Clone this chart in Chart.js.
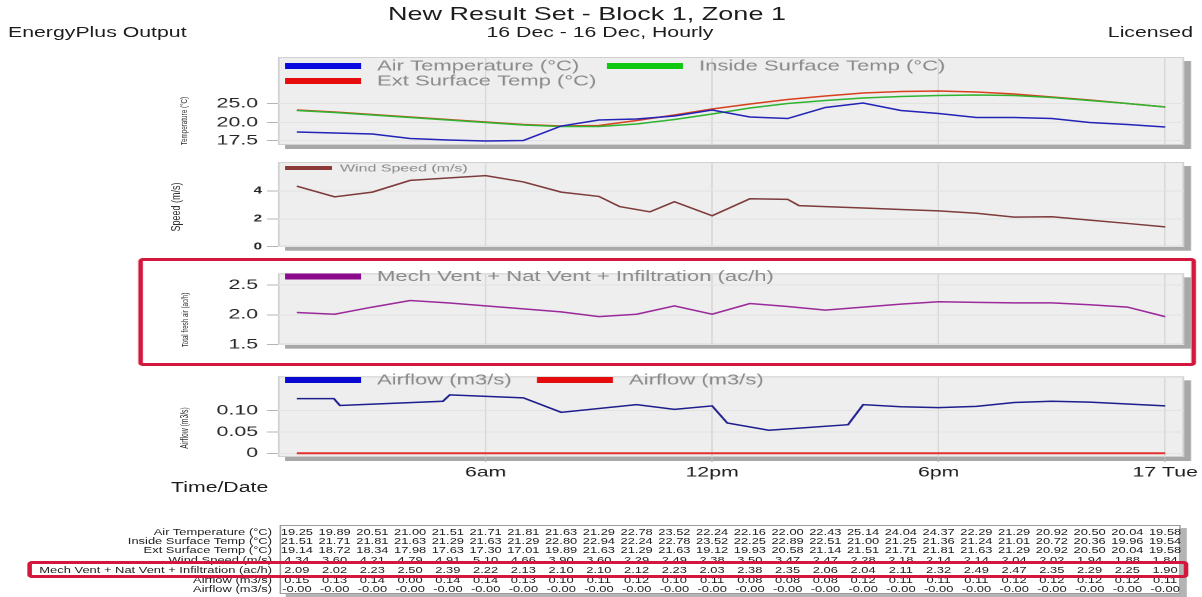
<!DOCTYPE html>
<html>
<head>
<meta charset="utf-8">
<title>New Result Set - Block 1, Zone 1</title>
<script src="https://cdn.jsdelivr.net/npm/chart.js@4.4.1/dist/chart.umd.min.js"></script>
<style>
  html, body { margin: 0; padding: 0; background: #fff; }
  body { width: 1202px; height: 597px; overflow: hidden; position: relative; }
  /* the sheet is laid out narrow and stretched horizontally as a whole */
  #sheet { position: absolute; left: 0; top: 0; width: 791px; height: 597px;
           transform: scaleX(1.519595); transform-origin: 0 0;
           font-family: "Liberation Sans", Arial, sans-serif; color: #1c1c1c; }
  #sheet canvas { position: absolute; left: 0; }
  .t { position: absolute; white-space: nowrap; line-height: 1; }
  .hl { position: absolute; border: 3px solid #d3173d; border-radius: 3px; box-sizing: border-box; z-index: 5; }
  .tbl { position: absolute; box-sizing: border-box; border: 1px solid #9c9c9c; background: #fff;
         box-shadow: 4px 3px 0 #b4b4b4; }
</style>
</head>
<body>
<div id="sheet"></div>
<script>
// ---------------------------------------------------------------- data
const hours = [1, 2, 3, 4, 5, 6, 7, 8, 9, 10, 11, 12, 13, 14, 15, 16, 17, 18, 19, 20, 21, 22, 23, 24];
const xTickHours = [6, 12, 18, 24];
const xTickLabels = ['6am', '12pm', '6pm', '17 Tue'];

// Temperatures (°C)
const airTemp        = [18.68, 18.54, 18.40, 17.78, 17.57, 17.43, 17.50, 19.51, 20.66, 20.92, 21.71, 23.29,
                        21.45, 21.05, 23.95, 25.13, 23.16, 22.37, 21.32, 21.32, 21.05, 20.00, 19.72, 19.38];
const insideSurfTemp = [23.16, 22.63, 21.97, 21.32, 20.66, 20.00, 19.65, 19.44, 19.44, 19.79, 20.79, 22.24,
                        23.82, 25.00, 25.79, 26.45, 26.84, 27.11, 27.24, 27.11, 26.58, 25.79, 25.00, 24.08];
const extSurfTemp    = [23.29, 22.76, 22.11, 21.45, 20.79, 20.13, 19.72, 19.51, 19.58, 20.53, 21.97, 23.55,
                        24.87, 26.05, 26.97, 27.76, 28.16, 28.29, 28.03, 27.50, 26.71, 25.92, 25.00, 24.08];
const tempTicks = [17.5, 20, 25];
const tempTickLabels = ['17.5', '20.0', '25.0'];

// Wind speed (m/s)
const windHours = [1, 2, 3, 4, 5, 6, 7, 8, 9, 9.55, 10.35, 11, 12, 13, 14, 14.3, 15, 16, 17, 18, 19, 20, 21, 22, 23, 24];
const windSpeed = [4.34, 3.58, 3.92, 4.76, 4.93, 5.10, 4.65, 3.92, 3.61, 2.88, 2.50, 3.23, 2.22, 3.44, 3.40, 2.95,
                   2.88, 2.78, 2.67, 2.57, 2.40, 2.12, 2.15, 1.91, 1.67, 1.42];
const windTicks = [0, 2, 4];
const windTickLabels = ['0', '2', '4'];

// Mech Vent + Nat Vent + Infiltration (ac/h)
const freshAir = [2.04, 2.01, 2.13, 2.24, 2.20, 2.15, 2.10, 2.05, 1.97, 2.01, 2.15, 2.01,
                  2.19, 2.14, 2.08, 2.13, 2.18, 2.22, 2.21, 2.20, 2.20, 2.17, 2.13, 1.97];
const freshAirTicks = [1.5, 2.0, 2.5];
const freshAirTickLabels = ['1.5', '2.0', '2.5'];

// Airflow (m3/s)
const airflowHours = [1, 1.98, 2.14, 4.87, 5.05, 7, 8, 10, 11, 12, 12.4, 13.5, 15.6, 16, 17, 18, 19, 20, 21, 22, 24];
const airflowA = [0.128, 0.128, 0.112, 0.122, 0.137, 0.130, 0.096, 0.114, 0.103, 0.111, 0.071, 0.054, 0.067,
                  0.114, 0.109, 0.107, 0.110, 0.119, 0.122, 0.120, 0.111];
const airflowB = [0, 0, 0, 0, 0, 0, 0, 0, 0, 0, 0, 0, 0, 0, 0, 0, 0, 0, 0, 0, 0, 0, 0, 0];
const airflowTicks = [0, 0.05, 0.10];
const airflowTickLabels = ['0', '0.05', '0.10'];

// Hourly summary table
const tableAirTemp     = ['19.25','19.89','20.51','21.00','21.51','21.71','21.81','21.63','21.29','22.78','23.52','22.24',
                          '22.16','22.00','22.43','25.14','24.04','24.37','22.29','21.29','20.92','20.50','20.04','19.58'];
const tableInsideSurf  = ['21.51','21.71','21.81','21.63','21.29','21.63','21.29','22.80','22.94','22.24','22.78','23.52',
                          '22.25','22.89','22.51','21.00','21.25','21.36','21.24','21.01','20.72','20.36','19.96','19.54'];
const tableExtSurf     = ['19.14','18.72','18.34','17.98','17.63','17.30','17.01','19.89','21.63','21.29','21.63','19.12',
                          '19.93','20.58','21.14','21.51','21.71','21.81','21.63','21.29','20.92','20.50','20.04','19.58'];
const tableWind        = ['4.34','3.60','4.21','4.79','4.91','5.10','4.66','3.90','3.60','2.29','2.49','2.38',
                          '3.50','3.47','2.47','2.28','2.18','2.14','2.14','2.04','2.02','1.94','1.88','1.84'];
const tableFreshAir    = ['2.09','2.02','2.23','2.50','2.39','2.22','2.13','2.10','2.10','2.12','2.23','2.03',
                          '2.38','2.35','2.06','2.04','2.11','2.32','2.49','2.47','2.35','2.29','2.25','1.90'];
const tableAirflowA    = ['0.15','0.13','0.14','0.00','0.14','0.14','0.13','0.10','0.11','0.12','0.10','0.11',
                          '0.08','0.08','0.08','0.12','0.11','0.11','0.11','0.12','0.12','0.12','0.12','0.11'];
const tableAirflowB    = ['-0.00','-0.00','-0.00','-0.00','-0.00','-0.00','-0.00','-0.00','-0.00','-0.00','-0.00','-0.00',
                          '-0.00','-0.00','-0.00','-0.00','-0.00','-0.00','-0.00','-0.00','-0.00','-0.00','-0.00','-0.00'];
const tableRowLabels = ['Air Temperature (°C)', 'Inside Surface Temp (°C)', 'Ext Surface Temp (°C)', 'Wind Speed (m/s)',
                        'Mech Vent + Nat Vent + Infiltration (ac/h)', 'Airflow (m3/s)', 'Airflow (m3/s)'];
const tableRows = [tableAirTemp, tableInsideSurf, tableExtSurf, tableWind, tableFreshAir, tableAirflowA, tableAirflowB];

// ---------------------------------------------------------------- layout helpers
const SX = 1202 / 791;              // horizontal stretch of the sheet
const X = v => v / SX;              // page x -> sheet x
const FONT = '"Liberation Sans", Arial, sans-serif';
const PLOT_LEFT = 278, PLOT_RIGHT = 1184;
const sheet = document.getElementById('sheet');

// Linear scale whose value->position mapping is piecewise linear between knots,
// so the temperature axis keeps 17.5 / 20 / 25 evenly spaced.
class KnotScale extends Chart.LinearScale {
  _toDecimal(v) {
    const kv = this.options.knotValues, kd = this.options.knotDecimals;
    let i = 0;
    while (i < kv.length - 2 && v > kv[i + 1]) i++;
    return kd[i] + (v - kv[i]) / (kv[i + 1] - kv[i]) * (kd[i + 1] - kd[i]);
  }
  getPixelForValue(value) {
    if (value === null || isNaN(value)) return NaN;
    return this.getPixelForDecimal(this._toDecimal(value));
  }
  getValueForPixel(pixel) {
    const d = this.getDecimalForPixel(pixel);
    const kv = this.options.knotValues, kd = this.options.knotDecimals;
    let i = 0;
    while (i < kd.length - 2 && d > kd[i + 1]) i++;
    return kv[i] + (d - kd[i]) / (kd[i + 1] - kd[i]) * (kv[i + 1] - kv[i]);
  }
}
KnotScale.id = 'knotLinear';
KnotScale.defaults = { ticks: { callback: Chart.Ticks.formatters.numeric } };
Chart.register(KnotScale);

function addText(txt, x, y, size, align, extra) {
  const d = document.createElement('div');
  d.className = 't';
  d.textContent = txt;
  d.style.left = X(x) + 'px';
  d.style.top = y + 'px';
  d.style.fontSize = size + 'px';
  const tx = align === 'center' ? '-50%' : align === 'right' ? '-100%' : '0';
  d.style.transform = `translate(${tx}, -50%)`;
  Object.assign(d.style, extra || {});
  sheet.appendChild(d);
  return d;
}
function addVText(txt, x, y, size) {
  const d = document.createElement('div');
  d.className = 't';
  d.textContent = txt;
  d.style.left = X(x) + 'px';
  d.style.top = y + 'px';
  d.style.fontSize = size + 'px';
  d.style.color = '#303030';
  d.style.transform = 'translate(-50%, -50%) rotate(-90deg)';
  sheet.appendChild(d);
}
const pts = (xs, ys) => xs.map((x, i) => ({ x, y: ys[i] }));

// frame with drop shadow behind the plot, and the key drawn inside its top
function frame(keys, canvasTop) {
  return {
    id: 'panelFrame',
    beforeDraw(chart) {
      const { ctx, chartArea: a } = chart;
      ctx.save();
      ctx.fillStyle = '#a8a8a8';
      ctx.fillRect(a.left + X(7), a.top + 4, a.width, a.height);
      ctx.fillStyle = '#eeeeee';
      ctx.fillRect(a.left, a.top, a.width, a.height);
      ctx.strokeStyle = '#d0d0d0';
      ctx.lineWidth = 1;
      ctx.strokeRect(a.left + 0.5, a.top + 0.5, a.width - 1, a.height - 1);
      ctx.restore();
    },
    afterDatasetsDraw(chart) {
      const { ctx } = chart;
      keys.forEach(k => {
        const ds = chart.data.datasets[k.dataset];
        const y = k.y - canvasTop;
        ctx.save();
        ctx.fillStyle = ds.keyColor;
        ctx.fillRect(X(k.x), y - k.h / 2, X(k.w), k.h);
        ctx.fillStyle = '#8a8a8a';
        ctx.font = `${k.size}px ${FONT}`;
        ctx.textBaseline = 'middle';
        ctx.fillText(ds.label, X(k.x + k.w + k.gap), y + 0.5);
        ctx.restore();
      });
    }
  };
}

function makePanel(p) {
  const cv = document.createElement('canvas');
  cv.width = 791; cv.height = p.canvasH;
  cv.style.top = p.canvasTop + 'px';
  sheet.appendChild(cv);
  const xAxisH = p.xLabels ? (p.canvasTop + p.canvasH - p.boxBottom) : 0;
  const y = {
    type: p.yType || 'linear', min: p.yMin, max: p.yMax,
    afterBuildTicks: s => { s.ticks = p.yTicks.map(v => ({ value: v })); },
    afterFit: s => { s.width = X(PLOT_LEFT); },
    grid: { color: '#e2e2e2', tickColor: '#b5b5b5', tickLength: X(11) },
    border: { display: false },
    ticks: { padding: X(p.yPad), font: p.yFont, color: '#262626',
             callback: (v, i) => p.yLabels[i] }
  };
  if (p.knotValues) { y.knotValues = p.knotValues; y.knotDecimals = p.knotDecimals; }
  return new Chart(cv, {
    type: 'line',
    data: { datasets: p.datasets },
    options: {
      responsive: false, animation: false, devicePixelRatio: 2,
      layout: { padding: { left: 0, right: X(1202 - PLOT_RIGHT), top: p.boxTop - p.canvasTop,
                           bottom: p.canvasTop + p.canvasH - p.boxBottom - xAxisH } },
      plugins: { legend: { display: false }, tooltip: { enabled: false } },
      elements: { point: { radius: 0 }, line: { tension: 0, borderWidth: 1.5 } },
      scales: {
        x: {
          type: 'linear', min: 0.5, max: 24.5,
          afterBuildTicks: s => { s.ticks = xTickHours.map(v => ({ value: v })); },
          afterFit: s => { s.height = xAxisH; },
          grid: { color: '#d9d9d9', drawTicks: !!p.xLabels, tickLength: 5, tickColor: '#b5b5b5' },
          border: { display: false },
          ticks: { display: !!p.xLabels, autoSkip: false, maxRotation: 0, padding: 2,
                   font: { family: FONT, size: 14 }, color: '#1c1c1c',
                   callback: (v, i) => xTickLabels[i] }
        },
        y
      }
    },
    plugins: [frame(p.keys, p.canvasTop)]
  });
}

// ---------------------------------------------------------------- panels
makePanel({
  canvasTop: 42, canvasH: 118, boxTop: 57, boxBottom: 145,
  yType: 'knotLinear', yMin: 16.875, yMax: 37.24,
  knotValues: [16.875, 17.5, 20, 25, 37.24], knotDecimals: [0, 0.0511, 0.2557, 0.4716, 1],
  yTicks: tempTicks, yLabels: tempTickLabels,
  yFont: { family: FONT, size: 14 }, yPad: 9,
  datasets: [
    { label: 'Air Temperature (°C)', data: pts(hours, airTemp), borderColor: '#2323b8', keyColor: '#0a0ae0' },
    { label: 'Inside Surface Temp (°C)', data: pts(hours, insideSurfTemp), borderColor: '#2fb42f', keyColor: '#10c810' },
    { label: 'Ext Surface Temp (°C)', data: pts(hours, extSurfTemp), borderColor: '#d8401e', keyColor: '#e40c0c' }
  ],
  keys: [
    { dataset: 0, x: 285, y: 66, w: 76, h: 6, gap: 16, size: 14.5 },
    { dataset: 1, x: 607, y: 66, w: 76, h: 6, gap: 16, size: 14.5 },
    { dataset: 2, x: 285, y: 81, w: 76, h: 6, gap: 16, size: 14.5 }
  ]
});

makePanel({
  canvasTop: 152, canvasH: 104, boxTop: 162, boxBottom: 249.5,
  yMin: 0, yMax: 6.08, yTicks: windTicks, yLabels: windTickLabels,
  yFont: { family: FONT, size: 10, weight: 'bold' }, yPad: 5,
  datasets: [
    { label: 'Wind Speed (m/s)', data: pts(windHours, windSpeed), borderColor: '#7e3b3b', keyColor: '#8c3a3a' }
  ],
  keys: [ { dataset: 0, x: 285, y: 168, w: 47, h: 4, gap: 8, size: 10.5 } ]
});

makePanel({
  canvasTop: 259, canvasH: 100, boxTop: 267, boxBottom: 352.5,
  yMin: 1.5, yMax: 2.696, yTicks: freshAirTicks, yLabels: freshAirTickLabels,
  yFont: { family: FONT, size: 14 }, yPad: 9,
  datasets: [
    { label: 'Mech Vent + Nat Vent + Infiltration (ac/h)', data: pts(hours, freshAir), borderColor: '#9a2a9a', keyColor: '#8c0a8c' }
  ],
  keys: [ { dataset: 0, x: 285, y: 276.5, w: 76, h: 6, gap: 16, size: 14.5 } ]
});

const flowChart = makePanel({
  canvasTop: 362, canvasH: 138, boxTop: 370, boxBottom: 457, xLabels: true,
  yMin: -0.0087, yMax: 0.1804, yTicks: airflowTicks, yLabels: airflowTickLabels,
  yFont: { family: FONT, size: 14 }, yPad: 9,
  datasets: [
    { label: 'Airflow (m3/s)', data: pts(airflowHours, airflowA), borderColor: '#1d1d8e', keyColor: '#0808d0' },
    { label: 'Airflow (m3/s)', data: pts(hours, airflowB), borderColor: '#e23030', keyColor: '#e40c0c', borderWidth: 2 }
  ],
  keys: [
    { dataset: 0, x: 285, y: 380, w: 76, h: 6, gap: 16, size: 14.5 },
    { dataset: 1, x: 537, y: 380, w: 76, h: 6, gap: 16, size: 14.5 }
  ]
});

// ---------------------------------------------------------------- headings and axis titles
addText('New Result Set - Block 1, Zone 1', 587, 15, 17.8, 'center');
addText('16 Dec - 16 Dec, Hourly', 600, 32, 14, 'center');
addText('EnergyPlus Output', 8, 32, 14, 'left');
addText('Licensed', 1193, 32, 14, 'right');
addText('Time/Date', 171, 487, 14, 'left');
addVText('Temperature (°C)', 184, 121, 6.3);
addVText('Speed (m/s)', 176, 207, 9);
addVText('Total fresh air (ac/h)', 185, 320, 6.2);
addVText('Airflow (m3/s)', 185, 428, 6.8);

// highlight around the fresh-air panel
(function () {
  const d = document.createElement('div');
  d.className = 'hl';
  d.style.left = X(138) + 'px'; d.style.top = '258px';
  d.style.width = X(1196 - 138) + 'px'; d.style.height = '108px';
  sheet.appendChild(d);
})();

// ---------------------------------------------------------------- summary table
(function () {
  const box = document.createElement('div');
  box.className = 'tbl';
  box.style.left = X(279) + 'px'; box.style.top = '525px';
  box.style.width = X(1181 - 279) + 'px'; box.style.height = '69px';
  sheet.appendChild(box);

  const rowY = [532, 541, 550, 559.5, 570, 579.5, 589];
  const xs = flowChart.scales.x;
  tableRows.forEach((row, r) => {
    addText(tableRowLabels[r], 272, rowY[r], 8.5, 'right', { color: '#202020' });
    row.forEach((val, i) => {
      const d = addText(val, 0, rowY[r], 8.5, 'center', { color: '#202020' });
      d.style.left = xs.getPixelForValue(hours[i]) + 'px';
    });
  });

  const hl = document.createElement('div');
  hl.className = 'hl';
  hl.style.left = X(27) + 'px'; hl.style.top = '561px';
  hl.style.width = X(1188 - 27) + 'px'; hl.style.height = '17px';
  sheet.appendChild(hl);
})();
</script>
</body>
</html>
